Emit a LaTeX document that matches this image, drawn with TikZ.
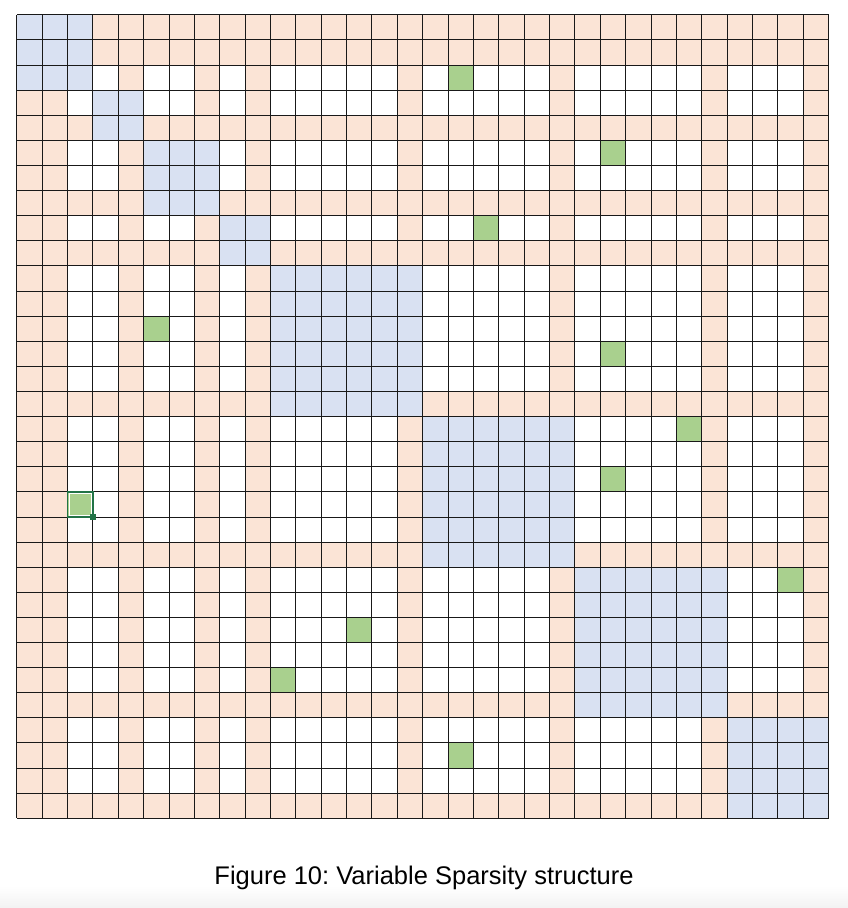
\documentclass[tikz,border=0pt]{standalone}
\usepackage{fontspec}
\setmainfont{Liberation Sans}
\frenchspacing
\definecolor{blockblue}{HTML}{D9E1F2}
\definecolor{seporange}{HTML}{FBE4D6}
\definecolor{cellgreen}{HTML}{A9D08E}
\definecolor{selgreen}{HTML}{217346}
\begin{document}
\begin{tikzpicture}[x=1pt,y=-1pt,
  gridline/.style={draw=black!90,line width=1pt},
  blockfill/.style={fill=blockblue},
  sepfill/.style={fill=seporange},
  greenfill/.style={fill=cellgreen},
  selborder/.style={draw=selgreen,line width=1.6pt},
  caption/.style={font=\fontsize{25.5}{30}\selectfont,text=black,anchor=base}]
\useasboundingbox (0,0) rectangle (848,908);
\shade[top color=white,bottom color=black!5] (0,886) rectangle (848,908);
\begin{scope}[shift={(16.8,14.8)},x=25.37pt,y=-25.11pt]
  % separator rows and columns
  \foreach \k in {0,1,4,7,9,15,21,27,31}{
    \fill[sepfill] (0,\k) rectangle (32,\k+1);
    \fill[sepfill] (\k,0) rectangle (\k+1,32);
  }
  % diagonal blocks
  \foreach \s/\e in {0/3,3/5,5/8,8/10,10/16,16/22,22/28,28/32}
    \fill[blockfill] (\s,\s) rectangle (\e,\e);
  % green cells (column/row)
  \foreach \c/\r in {17/2,23/5,18/8,5/12,23/13,26/16,23/18,2/19,30/22,13/24,10/26,17/29}
    \fill[greenfill] (\c,\r) rectangle (\c+1,\r+1);
  % grid
  \foreach \i in {0,...,32}{
    \draw[gridline] (\i,0) -- (\i,32);
    \draw[gridline] (0,\i) -- (32,\i);
  }
  % selected cell
  \draw[selborder] (2,19) rectangle (3,20);
  \draw[white,line width=0.5pt] ([xshift=1.6pt,yshift=-1.6pt]2,19) rectangle ([xshift=-1.6pt,yshift=1.6pt]3,20);
  \fill[selgreen] ([xshift=-2.6pt,yshift=-2.6pt]3,20) rectangle ([xshift=2.6pt,yshift=2.6pt]3,20);
\end{scope}
\node[caption] (cap) at (424,884) {Figure 10: Variable Sparsity structure};
\end{tikzpicture}
\end{document}
